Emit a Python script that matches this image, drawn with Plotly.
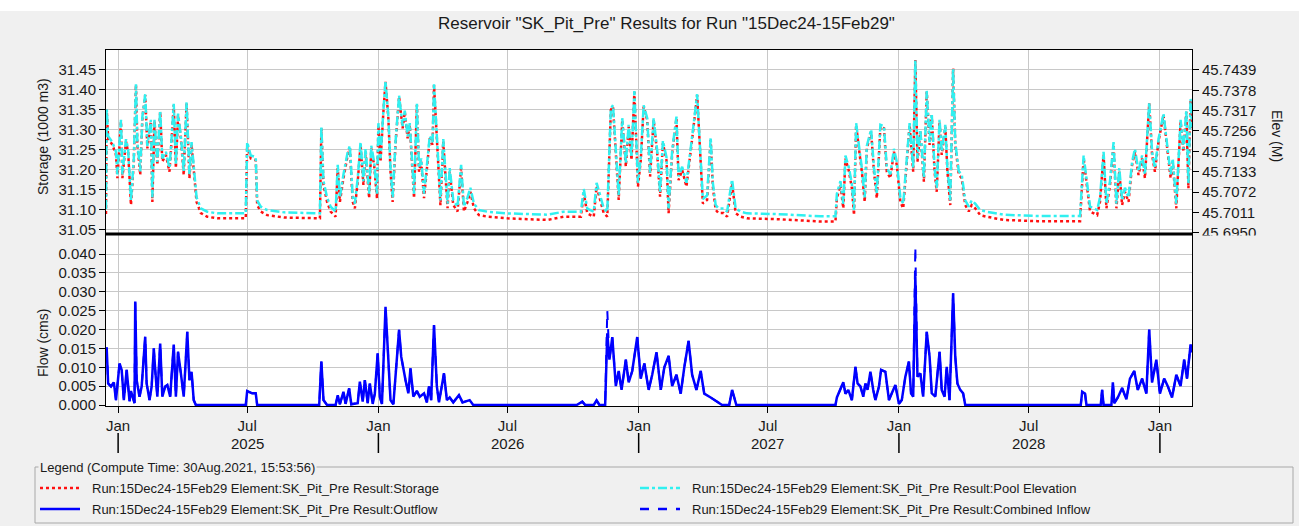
import pandas as pd
import plotly.graph_objects as go

# ---------------- data ----------------
START = "2024-12-15"
END = "2029-02-15"

pool_days = [
    0, 1, 3, 9, 14, 16, 21, 23, 28, 31,
    35, 39, 42, 44, 48, 51, 55, 58, 63, 65,
    68, 72, 76, 79, 84, 89, 91, 95, 98, 101,
    105, 109, 113, 117, 120, 124, 127, 133, 142, 156,
    180, 196, 198, 203, 210, 212, 217, 226, 250, 300,
    302, 305, 310, 315, 322, 325, 328, 333, 339, 342,
    346, 349, 353, 357, 361, 364, 369, 372, 376, 380,
    382, 385, 389, 392, 396, 399, 402, 406, 411, 416,
    419, 423, 426, 430, 432, 436, 439, 442, 446, 451,
    454, 458, 460, 464, 467, 469, 473, 476, 479, 482,
    487, 493, 498, 502, 507, 511, 516, 523, 535, 563,
    619, 642, 666, 670, 675, 684, 688, 693, 698, 703,
    708, 711, 715, 719, 724, 729, 733, 737, 741, 746,
    750, 754, 759, 763, 768, 773, 777, 781, 786, 789,
    794, 800, 803, 808, 814, 820, 823, 829, 834, 837,
    843, 848, 851, 855, 859, 866, 871, 878, 883, 890,
    899, 941, 1002, 1023, 1025, 1030, 1034, 1037, 1042, 1046,
    1049, 1052, 1057, 1060, 1064, 1067, 1073, 1077, 1081, 1086,
    1091, 1095, 1100, 1105, 1109, 1114, 1118, 1122, 1127, 1132,
    1135, 1138, 1142, 1147, 1151, 1155, 1158, 1162, 1165, 1169,
    1172, 1177, 1180, 1184, 1188, 1191, 1196, 1200, 1205, 1210,
    1214, 1219, 1226, 1235, 1259, 1306, 1366, 1371, 1376, 1380,
    1390, 1394, 1399, 1403, 1408, 1413, 1417, 1421, 1425, 1429,
    1434, 1439, 1443, 1448, 1453, 1457, 1463, 1467, 1471, 1476,
    1483, 1488, 1493, 1496, 1501, 1507, 1511, 1515, 1518, 1521,
    1523,
]

storage = [
    31.090, 31.350, 31.278, 31.262, 31.237, 31.179, 31.320, 31.179, 31.270, 31.245,
    31.112, 31.220, 31.411, 31.262, 31.187, 31.328, 31.386, 31.253, 31.320, 31.120,
    31.320, 31.212, 31.344, 31.220, 31.237, 31.195, 31.245, 31.361, 31.204, 31.336,
    31.278, 31.187, 31.365, 31.179, 31.262, 31.170, 31.120, 31.092, 31.083, 31.079,
    31.078, 31.079, 31.262, 31.228, 31.224, 31.112, 31.096, 31.087, 31.081, 31.079,
    31.303, 31.162, 31.120, 31.096, 31.083, 31.204, 31.120, 31.179, 31.237, 31.253,
    31.120, 31.104, 31.170, 31.262, 31.162, 31.245, 31.129, 31.253, 31.212, 31.129,
    31.311, 31.220, 31.344, 31.419, 31.328, 31.195, 31.120, 31.262, 31.382, 31.303,
    31.344, 31.278, 31.311, 31.179, 31.129, 31.361, 31.195, 31.220, 31.129, 31.220,
    31.278, 31.262, 31.411, 31.278, 31.179, 31.112, 31.270, 31.179, 31.104, 31.195,
    31.112, 31.096, 31.204, 31.096, 31.120, 31.145, 31.104, 31.087, 31.083, 31.079,
    31.075, 31.083, 31.083, 31.141, 31.091, 31.083, 31.158, 31.125, 31.092, 31.083,
    31.349, 31.357, 31.224, 31.125, 31.324, 31.208, 31.307, 31.224, 31.394, 31.158,
    31.224, 31.357, 31.324, 31.183, 31.324, 31.241, 31.133, 31.266, 31.224, 31.092,
    31.241, 31.328, 31.174, 31.199, 31.158, 31.257, 31.291, 31.386, 31.224, 31.116,
    31.125, 31.274, 31.158, 31.100, 31.092, 31.092, 31.083, 31.166, 31.092, 31.083,
    31.079, 31.077, 31.071, 31.071, 31.129, 31.162, 31.104, 31.228, 31.195, 31.154,
    31.087, 31.311, 31.237, 31.195, 31.120, 31.253, 31.295, 31.195, 31.129, 31.307,
    31.303, 31.195, 31.179, 31.245, 31.212, 31.120, 31.104, 31.195, 31.311, 31.195,
    31.473, 31.220, 31.295, 31.170, 31.394, 31.262, 31.336, 31.195, 31.145, 31.320,
    31.237, 31.307, 31.195, 31.112, 31.452, 31.262, 31.187, 31.179, 31.112, 31.096,
    31.112, 31.104, 31.087, 31.083, 31.075, 31.072, 31.072, 31.228, 31.162, 31.096,
    31.087, 31.120, 31.237, 31.104, 31.162, 31.262, 31.104, 31.195, 31.112, 31.145,
    31.120, 31.212, 31.245, 31.187, 31.228, 31.179, 31.365, 31.237, 31.195, 31.270,
    31.336, 31.262, 31.179, 31.220, 31.104, 31.320, 31.245, 31.344, 31.154, 31.374,
    31.300,
]

elevation = [
    45.7021, 45.7324, 45.7240, 45.7222, 45.7193, 45.7125, 45.7289, 45.7125, 45.7231, 45.7202,
    45.7047, 45.7173, 45.7396, 45.7222, 45.7134, 45.7299, 45.7366, 45.7211, 45.7289, 45.7056,
    45.7289, 45.7163, 45.7317, 45.7173, 45.7193, 45.7144, 45.7202, 45.7337, 45.7154, 45.7308,
    45.7240, 45.7134, 45.7342, 45.7125, 45.7222, 45.7114, 45.7056, 45.7023, 45.7013, 45.7008,
    45.7007, 45.7008, 45.7222, 45.7182, 45.7177, 45.7047, 45.7028, 45.7018, 45.7011, 45.7008,
    45.7270, 45.7105, 45.7056, 45.7028, 45.7013, 45.7154, 45.7056, 45.7125, 45.7193, 45.7211,
    45.7056, 45.7037, 45.7114, 45.7222, 45.7105, 45.7202, 45.7067, 45.7211, 45.7163, 45.7067,
    45.7279, 45.7173, 45.7317, 45.7405, 45.7299, 45.7144, 45.7056, 45.7222, 45.7362, 45.7270,
    45.7317, 45.7240, 45.7279, 45.7125, 45.7067, 45.7337, 45.7144, 45.7173, 45.7067, 45.7173,
    45.7240, 45.7222, 45.7396, 45.7240, 45.7125, 45.7047, 45.7231, 45.7125, 45.7037, 45.7144,
    45.7047, 45.7028, 45.7154, 45.7028, 45.7056, 45.7085, 45.7037, 45.7018, 45.7013, 45.7008,
    45.7004, 45.7013, 45.7013, 45.7081, 45.7022, 45.7013, 45.7100, 45.7062, 45.7023, 45.7013,
    45.7323, 45.7333, 45.7177, 45.7062, 45.7294, 45.7159, 45.7274, 45.7177, 45.7376, 45.7100,
    45.7177, 45.7333, 45.7294, 45.7130, 45.7294, 45.7197, 45.7071, 45.7226, 45.7177, 45.7023,
    45.7197, 45.7299, 45.7119, 45.7148, 45.7100, 45.7216, 45.7256, 45.7366, 45.7177, 45.7051,
    45.7062, 45.7236, 45.7100, 45.7033, 45.7023, 45.7023, 45.7013, 45.7110, 45.7023, 45.7013,
    45.7008, 45.7006, 45.6999, 45.6999, 45.7067, 45.7105, 45.7037, 45.7182, 45.7144, 45.7096,
    45.7018, 45.7279, 45.7193, 45.7144, 45.7056, 45.7211, 45.7260, 45.7144, 45.7067, 45.7274,
    45.7270, 45.7144, 45.7125, 45.7202, 45.7163, 45.7056, 45.7037, 45.7144, 45.7279, 45.7144,
    45.7468, 45.7173, 45.7260, 45.7114, 45.7376, 45.7222, 45.7308, 45.7144, 45.7085, 45.7289,
    45.7193, 45.7274, 45.7144, 45.7047, 45.7443, 45.7222, 45.7134, 45.7125, 45.7047, 45.7028,
    45.7047, 45.7037, 45.7018, 45.7013, 45.7004, 45.7000, 45.7000, 45.7182, 45.7105, 45.7028,
    45.7018, 45.7056, 45.7193, 45.7037, 45.7105, 45.7222, 45.7037, 45.7144, 45.7047, 45.7085,
    45.7056, 45.7163, 45.7202, 45.7134, 45.7182, 45.7125, 45.7342, 45.7193, 45.7144, 45.7231,
    45.7308, 45.7222, 45.7125, 45.7173, 45.7037, 45.7289, 45.7202, 45.7317, 45.7096, 45.7352,
    45.7266,
]

flow_days = [
    0, 1, 3, 7, 11, 14, 19, 22, 25, 29,
    33, 35, 40, 41, 43, 47, 50, 55, 57, 61,
    64, 67, 69, 72, 76, 79, 83, 86, 90, 95,
    98, 101, 105, 109, 114, 117, 120, 123, 126, 196,
    198, 205, 210, 212, 299, 302, 305, 310, 322, 325,
    328, 333, 336, 341, 344, 353, 356, 360, 363, 367,
    370, 374, 377, 381, 384, 387, 392, 395, 399, 403,
    411, 414, 417, 420, 424, 427, 431, 436, 440, 446,
    450, 453, 456, 460, 464, 467, 474, 478, 482, 487,
    495, 500, 510, 515, 660, 668, 672, 684, 688, 692,
    700, 703, 706, 710, 715, 719, 723, 729, 733, 738,
    745, 750, 755, 761, 766, 772, 778, 783, 789, 794,
    800, 806, 811, 817, 822, 828, 834, 839, 848, 856,
    864, 874, 878, 884, 1023, 1025, 1034, 1037, 1041, 1046,
    1051, 1054, 1058, 1062, 1065, 1068, 1072, 1076, 1079, 1084,
    1087, 1093, 1098, 1102, 1107, 1112, 1116, 1121, 1126, 1129,
    1132, 1135, 1138, 1142, 1146, 1151, 1155, 1158, 1163, 1169,
    1172, 1176, 1179, 1183, 1188, 1191, 1194, 1198, 1202, 1205,
    1367, 1369, 1373, 1375, 1395, 1397, 1399, 1410, 1412, 1414,
    1419, 1425, 1431, 1436, 1442, 1447, 1453, 1459, 1463, 1467,
    1473, 1478, 1484, 1489, 1495, 1501, 1507, 1512, 1516, 1521,
    1523,
]

outflow = [
    0.0150, 0.0150, 0.0057, 0.0049, 0.0060, 0.0013, 0.0110, 0.0093, 0.0013, 0.0093,
    0.0010, 0.0037, 0.0005, 0.0274, 0.0066, 0.0022, 0.0049, 0.0181, 0.0057, 0.0013,
    0.0049, 0.0150, 0.0093, 0.0022, 0.0163, 0.0022, 0.0049, 0.0053, 0.0022, 0.0160,
    0.0022, 0.0141, 0.0084, 0.0022, 0.0194, 0.0066, 0.0088, 0.0013, 0.0000, 0.0000,
    0.0037, 0.0031, 0.0031, 0.0000, 0.0000, 0.0115, 0.0013, 0.0000, 0.0000, 0.0026,
    0.0002, 0.0035, 0.0003, 0.0044, 0.0002, 0.0005, 0.0062, 0.0009, 0.0066, 0.0005,
    0.0057, 0.0003, 0.0030, 0.0137, 0.0022, 0.0003, 0.0260, 0.0146, 0.0013, 0.0002,
    0.0199, 0.0128, 0.0093, 0.0066, 0.0031, 0.0097, 0.0022, 0.0037, 0.0022, 0.0031,
    0.0007, 0.0049, 0.0013, 0.0212, 0.0049, 0.0007, 0.0084, 0.0013, 0.0020, 0.0007,
    0.0026, 0.0007, 0.0013, 0.0000, 0.0000, 0.0009, 0.0000, 0.0000, 0.0012, 0.0000,
    0.0000, 0.0190, 0.0120, 0.0180, 0.0050, 0.0090, 0.0040, 0.0120, 0.0060, 0.0090,
    0.0180, 0.0070, 0.0110, 0.0040, 0.0080, 0.0140, 0.0040, 0.0100, 0.0130, 0.0050,
    0.0080, 0.0030, 0.0100, 0.0170, 0.0080, 0.0040, 0.0090, 0.0030, 0.0020, 0.0010,
    0.0000, 0.0000, 0.0040, 0.0000, 0.0000, 0.0020, 0.0060, 0.0030, 0.0040, 0.0013,
    0.0101, 0.0057, 0.0049, 0.0022, 0.0057, 0.0040, 0.0088, 0.0040, 0.0013, 0.0049,
    0.0093, 0.0088, 0.0013, 0.0031, 0.0053, 0.0003, 0.0013, 0.0075, 0.0115, 0.0031,
    0.0022, 0.0340, 0.0075, 0.0084, 0.0022, 0.0194, 0.0128, 0.0031, 0.0022, 0.0141,
    0.0040, 0.0022, 0.0101, 0.0013, 0.0296, 0.0128, 0.0057, 0.0040, 0.0031, 0.0000,
    0.0000, 0.0035, 0.0030, 0.0000, 0.0000, 0.0040, 0.0000, 0.0000, 0.0060, 0.0005,
    0.0020, 0.0045, 0.0015, 0.0070, 0.0090, 0.0040, 0.0070, 0.0030, 0.0200, 0.0060,
    0.0120, 0.0030, 0.0070, 0.0050, 0.0020, 0.0080, 0.0050, 0.0120, 0.0070, 0.0160,
    0.0140,
]

inflow = [
    0.0150, 0.0150, 0.0057, 0.0049, 0.0060, 0.0013, 0.0110, 0.0093, 0.0013, 0.0093,
    0.0010, 0.0037, 0.0005, 0.0274, 0.0066, 0.0022, 0.0049, 0.0181, 0.0057, 0.0013,
    0.0049, 0.0150, 0.0093, 0.0022, 0.0163, 0.0022, 0.0049, 0.0053, 0.0022, 0.0160,
    0.0022, 0.0141, 0.0084, 0.0022, 0.0194, 0.0066, 0.0088, 0.0013, 0.0000, 0.0000,
    0.0037, 0.0031, 0.0031, 0.0000, 0.0000, 0.0115, 0.0013, 0.0000, 0.0000, 0.0026,
    0.0002, 0.0035, 0.0003, 0.0044, 0.0002, 0.0005, 0.0062, 0.0009, 0.0066, 0.0005,
    0.0057, 0.0003, 0.0030, 0.0137, 0.0022, 0.0003, 0.0260, 0.0146, 0.0013, 0.0002,
    0.0199, 0.0128, 0.0093, 0.0066, 0.0031, 0.0097, 0.0022, 0.0037, 0.0022, 0.0031,
    0.0007, 0.0049, 0.0013, 0.0212, 0.0049, 0.0007, 0.0084, 0.0013, 0.0020, 0.0007,
    0.0026, 0.0007, 0.0013, 0.0000, 0.0000, 0.0009, 0.0000, 0.0000, 0.0012, 0.0000,
    0.0000, 0.0250, 0.0120, 0.0180, 0.0050, 0.0090, 0.0040, 0.0120, 0.0060, 0.0090,
    0.0180, 0.0070, 0.0110, 0.0040, 0.0080, 0.0140, 0.0040, 0.0100, 0.0130, 0.0050,
    0.0080, 0.0030, 0.0100, 0.0170, 0.0080, 0.0040, 0.0090, 0.0030, 0.0020, 0.0010,
    0.0000, 0.0000, 0.0040, 0.0000, 0.0000, 0.0020, 0.0060, 0.0030, 0.0040, 0.0013,
    0.0101, 0.0057, 0.0049, 0.0022, 0.0057, 0.0040, 0.0088, 0.0040, 0.0013, 0.0049,
    0.0093, 0.0088, 0.0013, 0.0031, 0.0053, 0.0003, 0.0013, 0.0075, 0.0115, 0.0031,
    0.0022, 0.0420, 0.0075, 0.0084, 0.0022, 0.0194, 0.0128, 0.0031, 0.0022, 0.0141,
    0.0040, 0.0022, 0.0101, 0.0013, 0.0296, 0.0128, 0.0057, 0.0040, 0.0031, 0.0000,
    0.0000, 0.0035, 0.0030, 0.0000, 0.0000, 0.0040, 0.0000, 0.0000, 0.0060, 0.0005,
    0.0020, 0.0045, 0.0015, 0.0070, 0.0090, 0.0040, 0.0070, 0.0030, 0.0200, 0.0060,
    0.0120, 0.0030, 0.0070, 0.0050, 0.0020, 0.0080, 0.0050, 0.0120, 0.0070, 0.0160,
    0.0140,
]

month_ticks = ["2025-01-01", "2025-07-01", "2026-01-01", "2026-07-01", "2027-01-01",
               "2027-07-01", "2028-01-01", "2028-07-01", "2029-01-01"]
month_labels = ["Jan", "Jul", "Jan", "Jul", "Jan", "Jul", "Jan", "Jul", "Jan"]
year_labels = ["2025", "2026", "2027", "2028"]
year_label_pos = ["2025-07-01", "2026-07-01", "2027-07-01", "2028-07-01"]
year_marks = ["2025-01-01", "2026-01-01", "2027-01-01", "2028-01-01", "2029-01-01"]
storage_ticks = [31.05, 31.10, 31.15, 31.20, 31.25, 31.30, 31.35, 31.40, 31.45]
elev_ticks = [45.6950, 45.7011, 45.7072, 45.7133, 45.7194, 45.7256, 45.7317, 45.7378, 45.7439]
elev_labels = ["45.6950", "45.7011", "45.7072", "45.7133", "45.7194", "45.7256",
               "45.7317", "45.7378", "45.7439"]
flow_ticks = [0.000, 0.005, 0.010, 0.015, 0.020, 0.025, 0.030, 0.035, 0.040]

TITLE = 'Reservoir "SK_Pit_Pre" Results for Run "15Dec24-15Feb29"'
LEGEND_TITLE = "Legend (Compute Time: 30Aug.2021, 15:53:56)"
NAMES = [
    "Run:15Dec24-15Feb29 Element:SK_Pit_Pre Result:Storage",
    "Run:15Dec24-15Feb29 Element:SK_Pit_Pre Result:Pool Elevation",
    "Run:15Dec24-15Feb29 Element:SK_Pit_Pre Result:Outflow",
    "Run:15Dec24-15Feb29 Element:SK_Pit_Pre Result:Combined Inflow",
]

assert len(pool_days) == len(storage) == len(elevation)
assert len(flow_days) == len(outflow) == len(inflow)

t0 = pd.Timestamp(START)
pool_dates = t0 + pd.to_timedelta(pool_days, unit="D")
flow_dates = t0 + pd.to_timedelta(flow_days, unit="D")

# ---------------- geometry (pixels) ----------------
W, H = 1299, 526
PL, PR, PT, PB = 106, 1192, 50, 406
SPLIT = 234


def px(X):
    return (X - PL) / (PR - PL)


def py(Y):
    return (PB - Y) / (PB - PT)


FONT = "Liberation Sans, Arial, sans-serif"
TXT = "#1a1a1a"
GRID = "#c8c8c8"
BG = "#f0f0f0"
RED, CYAN, BLUE = "#ff1010", "#30f0f0", "#0000ff"
split_frac = py(SPLIT)

fig = go.Figure()
fig.add_trace(go.Scatter(x=pool_dates, y=storage, xaxis="x2", yaxis="y2", mode="lines",
                         name=NAMES[0], line=dict(color=RED, width=2.5, dash="dot")))
fig.add_trace(go.Scatter(x=pool_dates, y=elevation, xaxis="x2", yaxis="y3", mode="lines",
                         name=NAMES[1], line=dict(color=CYAN, width=2.5, dash="dashdot")))
fig.add_trace(go.Scatter(x=flow_dates, y=outflow, xaxis="x", yaxis="y", mode="lines",
                         name=NAMES[2], line=dict(color=BLUE, width=2.5)))
fig.add_trace(go.Scatter(x=flow_dates, y=inflow, xaxis="x", yaxis="y", mode="lines",
                         name=NAMES[3], line=dict(color=BLUE, width=2, dash="dash")))

tickfont = dict(family=FONT, size=15, color=TXT)
xcommon = dict(type="date", range=[START, END], tickvals=month_ticks, ticktext=month_labels,
               showgrid=True, gridcolor=GRID, gridwidth=1, showline=True, linecolor="#000",
               linewidth=1, mirror=True, zeroline=False)

fig.update_layout(
    width=W, height=H, autosize=False,
    margin=dict(l=PL, r=W - PR, t=PT, b=H - PB, pad=0),
    paper_bgcolor=BG, plot_bgcolor="white",
    showlegend=False,
    font=dict(family=FONT, size=14, color=TXT),
    xaxis=dict(**xcommon, anchor="y", domain=[0, 1], ticks="outside", ticklen=6,
               tickcolor="#000", tickfont=tickfont),
    xaxis2=dict(**xcommon, anchor="y2", domain=[0, 1], matches="x", ticks="",
                showticklabels=False),
    yaxis=dict(domain=[0, split_frac], range=[-0.000265, 0.0453], tickvals=flow_ticks,
               tickformat=".3f", ticks="outside", ticklen=6, tickcolor="#000",
               showgrid=True, gridcolor=GRID, showline=True, linecolor="#000",
               mirror=True, zeroline=False, tickfont=tickfont),
    yaxis2=dict(domain=[split_frac, 1], anchor="x2", range=[31.040, 31.498],
                tickvals=storage_ticks, tickformat=".2f", ticks="outside", ticklen=6,
                tickcolor="#000", showgrid=True, gridcolor=GRID, showline=True,
                linecolor="#000", mirror=True, zeroline=False, tickfont=tickfont),
    yaxis3=dict(overlaying="y2", anchor="x2", side="right", range=[45.6946, 45.7499],
                tickvals=elev_ticks, ticktext=elev_labels, ticks="outside", ticklen=6,
                tickcolor="#000", showgrid=False, showline=True, linecolor="#000",
                zeroline=False, tickfont=tickfont),
)

shapes = []
# white strip at the very top
shapes.append(dict(type="rect", xref="paper", yref="paper", x0=px(0), x1=px(W),
                   y0=py(0), y1=py(11), fillcolor="white", line=dict(width=0),
                   layer="below"))
# thick separator between panels
shapes.append(dict(type="line", xref="paper", yref="paper", x0=0, x1=1,
                   y0=split_frac, y1=split_frac, line=dict(color="#000", width=3),
                   layer="above"))
# hide lower half of the clipped 45.6950 label
shapes.append(dict(type="rect", xref="paper", yref="paper", x0=px(PR + 3), x1=px(1268),
                   y0=py(235.5), y1=py(244), fillcolor=BG, line=dict(width=0),
                   layer="above"))
# year separator marks in second tick row
for d in year_marks:
    shapes.append(dict(type="line", xref="x", yref="paper", x0=d, x1=d,
                       y0=py(433), y1=py(453), line=dict(color="#000", width=1.5)))
# legend frame
shapes.append(dict(type="rect", xref="paper", yref="paper", x0=px(35), x1=px(1293),
                   y0=py(467), y1=py(523), line=dict(color="#a8a8a8", width=1),
                   fillcolor="rgba(0,0,0,0)"))
# legend samples
leg = [
    (40, 488, RED, "dot", 2.5),
    (640, 488, CYAN, "dashdot", 2.5),
    (40, 509, BLUE, "solid", 2.5),
    (640, 509, BLUE, "dash", 2.5),
]
for (lx, ly, c, dsh, w) in leg:
    shapes.append(dict(type="line", xref="paper", yref="paper", x0=px(lx), x1=px(lx + 40),
                       y0=py(ly), y1=py(ly), line=dict(color=c, width=w, dash=dsh)))

annotations = []
annotations.append(dict(text=TITLE, xref="paper", yref="paper", x=px(666), y=py(24),
                        xanchor="center", yanchor="middle", showarrow=False,
                        font=dict(family=FONT, size=17, color=TXT)))
annotations.append(dict(text="Storage (1000 m3)", xref="paper", yref="paper", x=px(43),
                        y=py(137), textangle=-90, xanchor="center", yanchor="middle",
                        showarrow=False, font=dict(family=FONT, size=14, color=TXT)))
annotations.append(dict(text="Flow (cms)", xref="paper", yref="paper", x=px(43),
                        y=py(343), textangle=-90, xanchor="center", yanchor="middle",
                        showarrow=False, font=dict(family=FONT, size=14, color=TXT)))
annotations.append(dict(text="Elev (M)", xref="paper", yref="paper", x=px(1277),
                        y=py(136), textangle=90, xanchor="center", yanchor="middle",
                        showarrow=False, font=dict(family=FONT, size=14, color=TXT)))
for lab, pos in zip(year_labels, year_label_pos):
    annotations.append(dict(text=lab, xref="x", yref="paper", x=pos, y=py(443),
                            xanchor="center", yanchor="middle", showarrow=False,
                            font=dict(family=FONT, size=15, color=TXT)))
annotations.append(dict(text=LEGEND_TITLE, xref="paper", yref="paper", x=px(38),
                        y=py(467), xanchor="left", yanchor="middle", showarrow=False,
                        bgcolor=BG, borderpad=1,
                        font=dict(family=FONT, size=13, color=TXT)))
for (lx, ly, c, dsh, w), name in zip(leg, NAMES):
    annotations.append(dict(text=name, xref="paper", yref="paper", x=px(lx + 50),
                            y=py(ly), xanchor="left", yanchor="middle", showarrow=False,
                            font=dict(family=FONT, size=13, color=TXT)))

fig.update_layout(shapes=shapes, annotations=annotations)
fig.write_html(
    "out.html",
    config={"displayModeBar": False},
    post_script="document.body.style.margin='0';document.body.style.overflow='hidden';",
)
